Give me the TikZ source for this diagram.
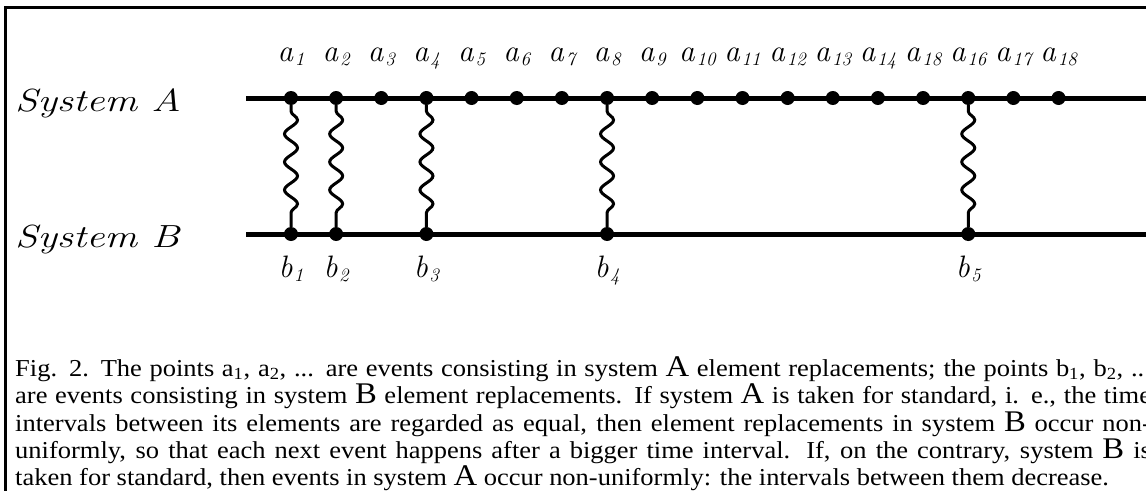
\documentclass[tikz,border=0pt]{standalone}
\usepackage{fontspec}
\newfontfamily\capfont{Liberation Serif}
\usetikzlibrary{decorations.pathmorphing}
\newcommand\bigLetter[1]{{\fontsize{30}{30}\selectfont #1}}
\newcommand\sysname[1]{\scalebox{1.27}[1]{#1}}
\newcommand\capline[1]{\scalebox{1.09}[1]{\capfont\fontsize{24.3}{24.3}\selectfont #1}}
\newcommand\capjust[1]{\scalebox{1.09}[1]{\capfont\fontsize{24.3}{24.3}\selectfont\makebox[1042pt][s]{#1}}}
\newcommand\evlab[2]{\textit{#1}\kern1.5pt\raisebox{-4pt}{\fontsize{19}{19}\selectfont\itshape #2}}
\begin{document}
\begin{tikzpicture}[x=1pt,y=-1pt,
  axis/.style={line width=5pt},
  ev/.style={circle, fill=black, inner sep=0pt, minimum size=14pt},
  wave/.style={line width=3pt, decorate, decoration={snake, segment length=28pt, amplitude=6.5pt, pre length=6pt, post length=14pt}},
  alab/.style={anchor=base, inner sep=0pt, font=\fontsize{31}{31}\selectfont},
  syslab/.style={anchor=base west, inner sep=0pt, font=\fontsize{32}{32}\selectfont\itshape},
  captext/.style={anchor=base west, inner sep=0pt}]
\useasboundingbox (0,0) rectangle (1146,490);
\clip (0,0) rectangle (1146,490);
\fill[white] (0,0) rectangle (1146,490);
% frame
\coordinate (f1) at (5,500);
\coordinate (f2) at (5,7.5);
\coordinate (f3) at (1150,7.5);
\draw[line width=3pt] (f1) -- (f2) -- (f3);
% system lines
\coordinate (As) at (246,98);
\coordinate (Ae) at (1150,98);
\coordinate (Bs) at (246,234);
\coordinate (Be) at (1150,234);
\draw[axis] (As) -- (Ae);
\draw[axis] (Bs) -- (Be);
\node[syslab] (sysA) at (15,111) {\sysname{System A}};
\node[syslab] (sysB) at (15,247) {\sysname{System B}};
% events of A
\foreach \i/\l in {1/1,2/2,3/3,4/4,5/5,6/6,7/7,8/8,9/9,10/10,11/11,12/12,13/13,14/14,15/18,16/16,17/17,18/18}{
  \node[ev] (a\i) at ({291+45.15*(\i-1)},98) {};
  \node[alab] (la\i) at ({291+45.15*(\i-1)},61) {\evlab{a}{\l}};
}
% events of B
\foreach \j/\i in {1/1,2/2,3/4,4/8,5/16}{
  \node[ev] (b\j) at (a\i |- Bs) {};
  \node[alab] (lb\j) at ([yshift=-43pt]b\j.center) {\evlab{b}{\j}};
  \draw[wave] (a\i) -- (b\j);
}
% caption
\node[captext] (c1) at (15,376) {\capjust{Fig. 2. The points a\textsubscript{1}, a\textsubscript{2}, ... are events consisting in system \bigLetter{A} element replacements; the points b\textsubscript{1}, b\textsubscript{2}, ...}};
\node[captext] (c2) at (15,403.5) {\capjust{are events consisting in system \bigLetter{B} element replacements. If system \bigLetter{A} is taken for standard, i. e., the time}};
\node[captext] (c3) at (15,431) {\capjust{intervals between its elements are regarded as equal, then element replacements in system \bigLetter{B} occur non-}};
\node[captext] (c4) at (15,458.5) {\capjust{uniformly, so that each next event happens after a bigger time interval. If, on the contrary, system \bigLetter{B} is}};
\node[captext] (c5) at (15,485) {\capline{taken for standard, then events in system \bigLetter{A} occur non-uniformly: the intervals between them decrease.}};
\end{tikzpicture}
\end{document}
